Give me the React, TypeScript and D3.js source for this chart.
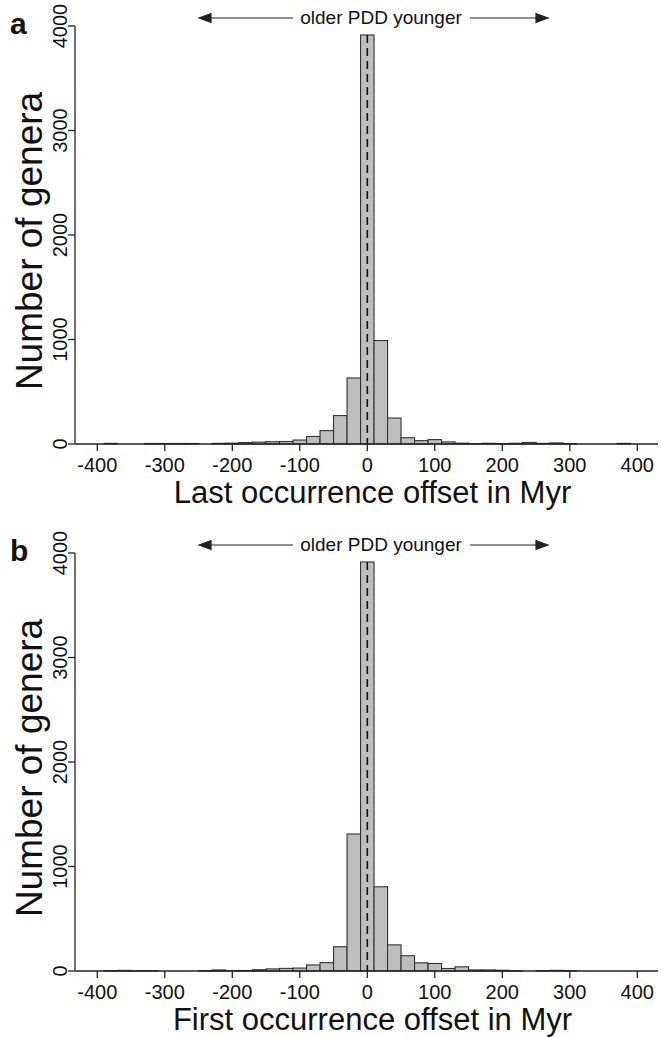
import React from 'react'
import * as d3 from 'd3'

const width = 663
const height = 1037
const font = '"Liberation Sans", Arial, Helvetica, sans-serif'

// bin centres (bins are 20 Myr wide)
const binCenters = [
  -380, -360, -340, -320, -300, -280, -260, -240, -220, -200,
  -180, -160, -140, -120, -100, -80, -60, -40, -20, 0,
  20, 40, 60, 80, 100, 120, 140, 160, 180, 200,
  220, 240, 260, 280, 300, 320, 340, 360, 380
]
const lastCounts = [
  6, 0, 0, 5, 5, 5, 5, 0, 6, 8,
  14, 18, 22, 24, 38, 72, 128, 272, 632, 3914,
  990, 248, 60, 32, 42, 20, 8, 4, 7, 4,
  7, 15, 6, 10, 4, 0, 0, 0, 6
]
const firstCounts = [
  4, 6, 3, 3, 0, 0, 0, 3, 10, 3,
  5, 12, 20, 25, 28, 58, 80, 232, 1311, 3914,
  806, 250, 146, 78, 72, 24, 40, 10, 10, 7,
  3, 0, 4, 6, 4, 0, 0, 0, 0
]
const xTicks = [-400, -300, -200, -100, 0, 100, 200, 300, 400]
const yTicks = [0, 1000, 2000, 3000, 4000]

const x = d3.scaleLinear().domain([-400, 400]).range([97.3, 637.3])
const binWidth = 20

const Panel = ({ counts, title, letter, top }: { counts: number[]; title: string; letter: string; top: number }) => {
  const y = d3.scaleLinear().domain([0, 4000]).range([top + 418, top])
  const base = y(0)
  const axisLeft = 75
  const axisRight = 658
  return (
    <g>
      <text x={10} y={top + 8} fontFamily={font} fontWeight="bold" fontSize={30} fill="#111">{letter}</text>
      {/* arrows */}
      <g stroke="#222" strokeWidth={1.2} fill="#222">
        <line x1={203} x2={293} y1={top - 8} y2={top - 8} />
        <path d={`M199,${top - 8} l12,-4.5 l0,9 z`} />
        <line x1={470} x2={544} y1={top - 8} y2={top - 8} />
        <path d={`M548,${top - 8} l-12,-4.5 l0,9 z`} />
      </g>
      <text x={381} y={top - 2} textAnchor="middle" fontFamily={font} fontSize={19} fill="#111">older PDD younger</text>

      {/* bars */}
      {counts.map((v, i) => (
        <rect
          key={i}
          x={x(binCenters[i] - binWidth / 2)}
          width={x(binCenters[i] + binWidth / 2) - x(binCenters[i] - binWidth / 2)}
          y={y(v)}
          height={base - y(v)}
          fill="#bebebe"
          stroke="#333"
          strokeWidth={1.1}
        />
      ))}
      <line x1={x(0)} x2={x(0)} y1={y(3914)} y2={base} stroke="#111" strokeWidth={1.6} strokeDasharray="8 5" />

      {/* axes */}
      <g stroke="#222" strokeWidth={1.3} fill="none">
        <line x1={axisLeft} x2={axisRight} y1={base} y2={base} />
        <line x1={axisLeft} x2={axisLeft} y1={y(4000)} y2={base} />
        {xTicks.map(t => (
          <line key={t} x1={x(t)} x2={x(t)} y1={base} y2={base + 7} />
        ))}
        {yTicks.map(t => (
          <line key={t} x1={axisLeft - 7} x2={axisLeft} y1={y(t)} y2={y(t)} />
        ))}
      </g>
      {xTicks.map(t => (
        <text key={t} x={x(t)} y={base + 28} textAnchor="middle" fontFamily={font} fontSize={20} fill="#111">{t}</text>
      ))}
      {yTicks.map(t => (
        <text key={t} transform={`translate(67,${y(t)}) rotate(-90)`} textAnchor="middle" fontFamily={font} fontSize={20} fill="#111">{t}</text>
      ))}
      <text x={372.5} y={base + 59} textAnchor="middle" fontFamily={font} fontSize={31} fill="#111">{title}</text>
      <text transform={`translate(42,${(top + base) / 2 + 6}) rotate(-90)`} textAnchor="middle" fontFamily={font} fontSize={37} fill="#111">Number of genera</text>
    </g>
  )
}

const App = () => {
  return (
    <div style={{ position: 'absolute', left: 0, top: 0 }}>
      <svg width={width} height={height} style={{ display: 'block', background: '#fff' }}>
        <Panel counts={lastCounts} title="Last occurrence offset in Myr" letter="a" top={26} />
        <Panel counts={firstCounts} title="First occurrence offset in Myr" letter="b" top={553} />
      </svg>
    </div>
  )
}

export default App
